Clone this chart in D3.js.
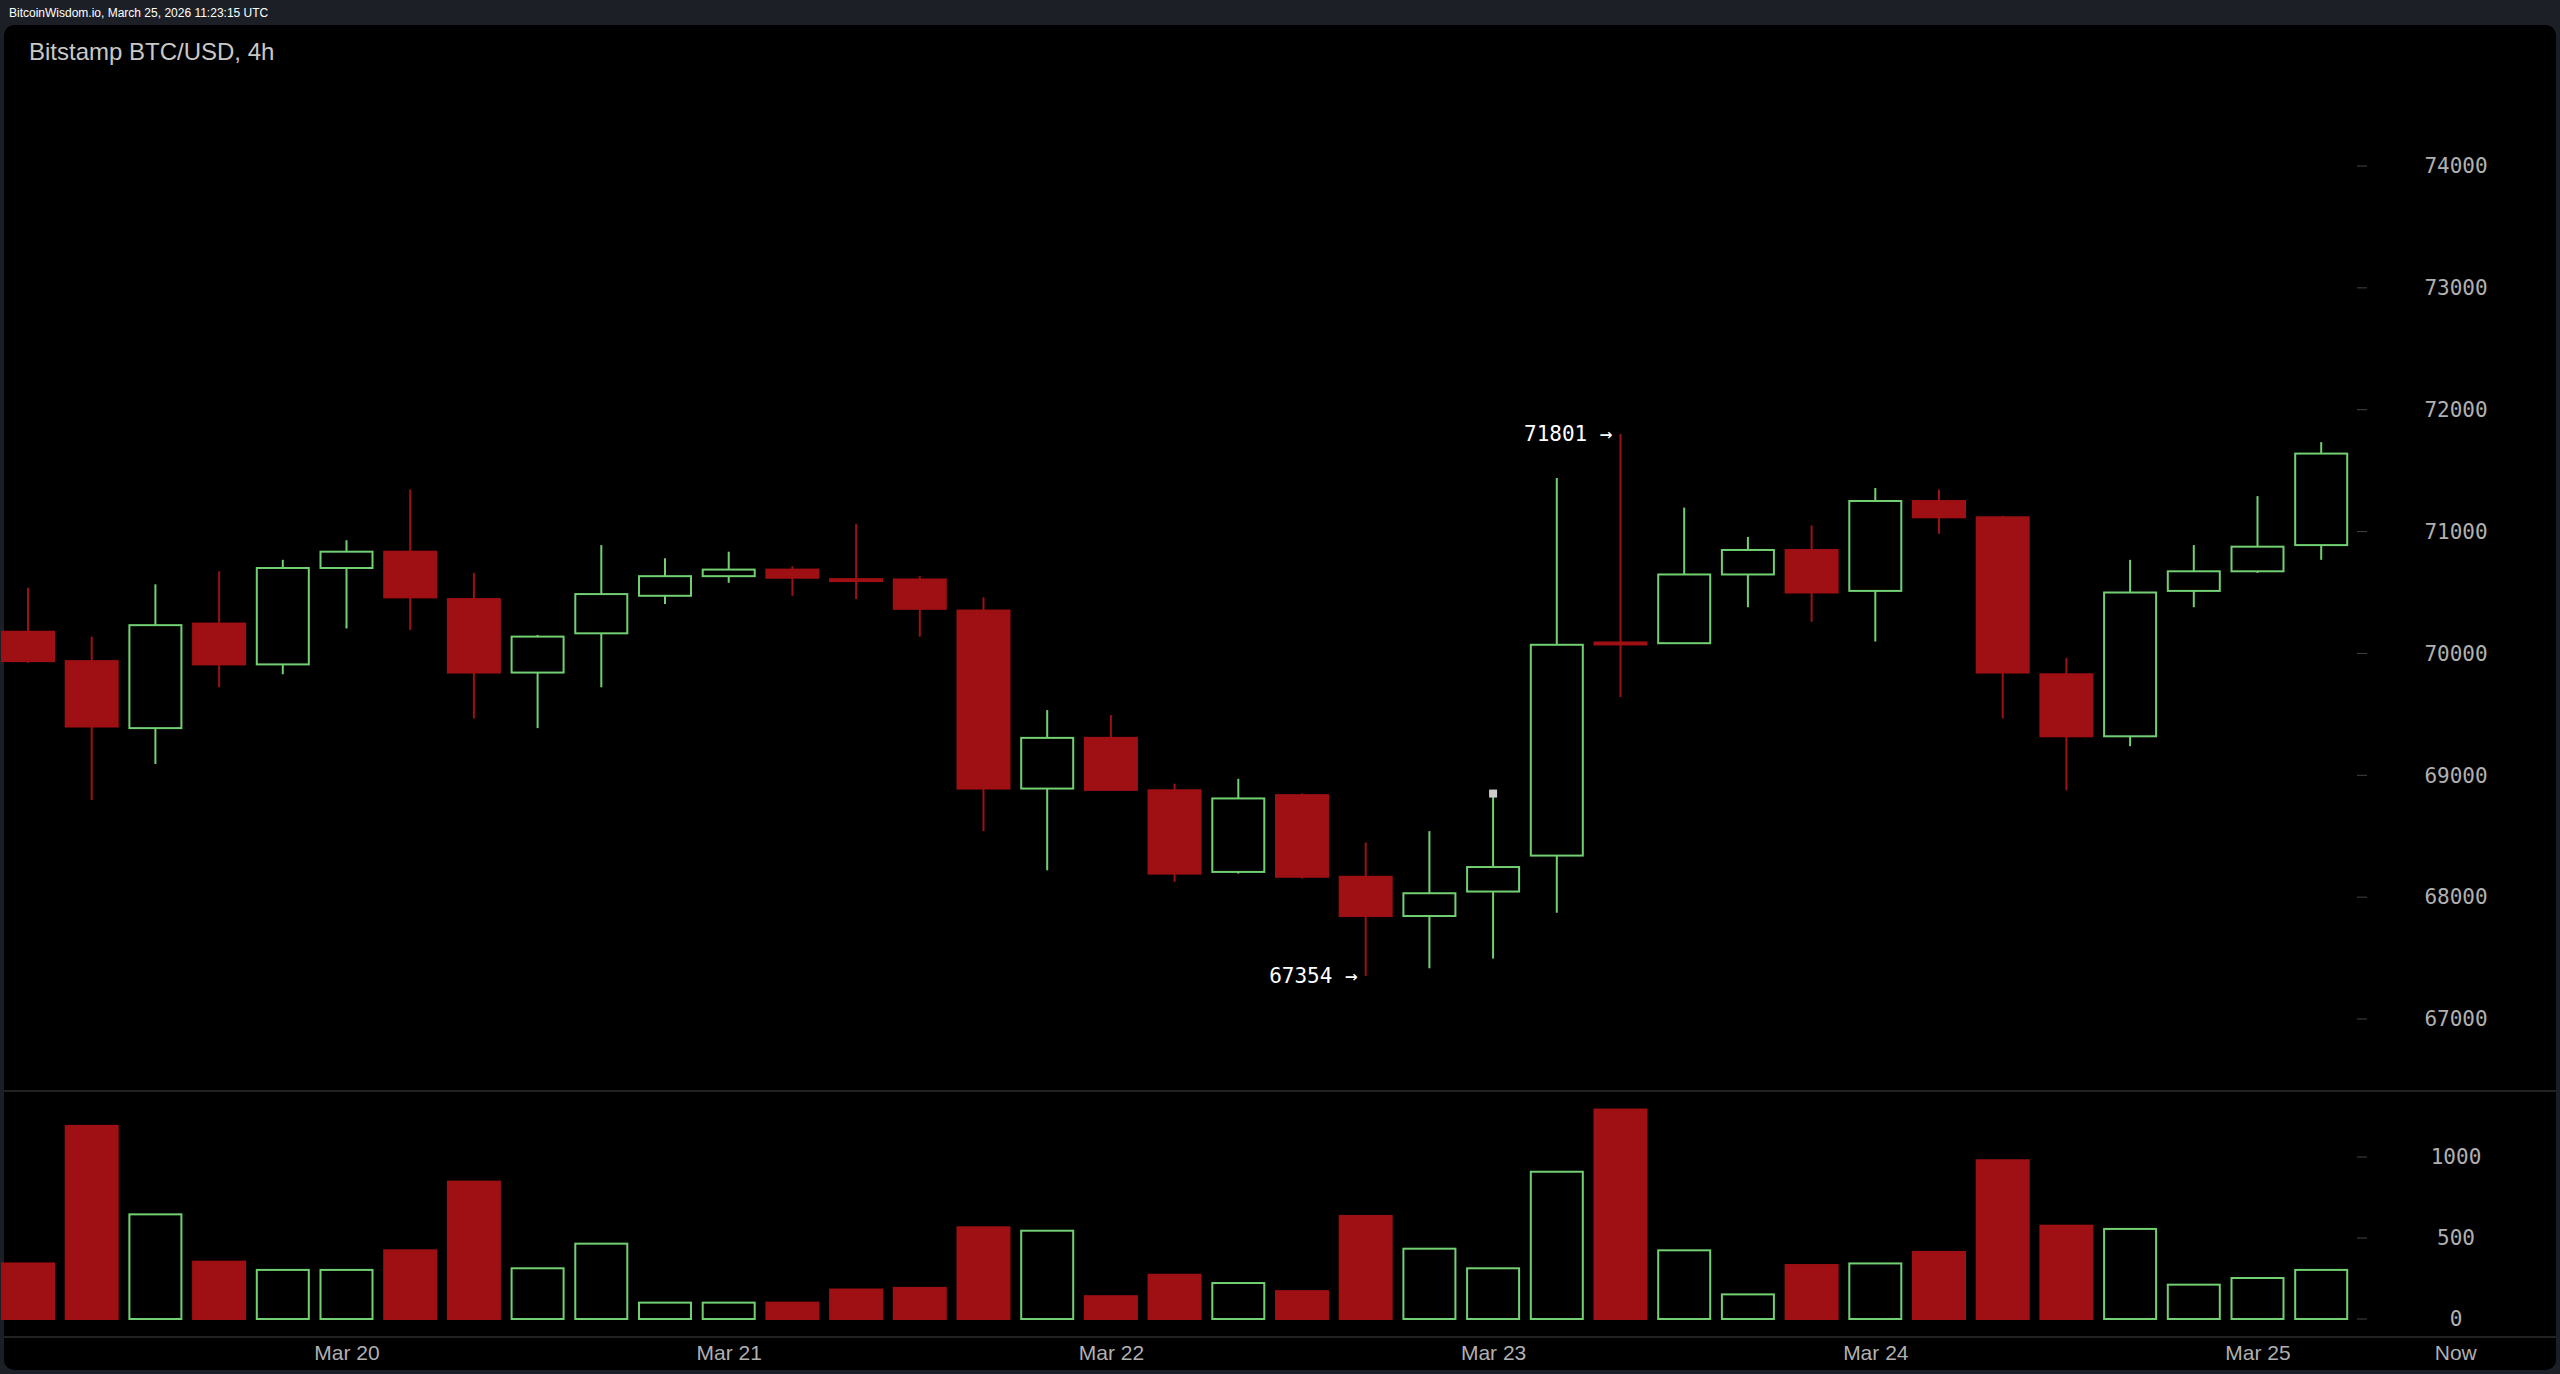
<!DOCTYPE html>
<html>
<head>
<meta charset="utf-8">
<script src="https://cdn.jsdelivr.net/npm/d3@7"></script>
<style>
body{margin:0;background:#1c1f26;overflow:hidden}
svg{display:block}
</style>
</head>
<body>
<svg id="chart"></svg>
<script>
// 4h candles starting Mar 19 04:00 UTC
var opens  = [70178,69937,69387,70245,69910,70701,70835,70446,69843,70165,70473,70634,70688,70610,70607,70352,68891,69307,68877,68207,68837,68167,67845,68046,68341,70090,70084,70648,70849,70513,71251,71117,69829,69320,70513,70674,70889];
var highs  = [70540,70138,70567,70674,70768,70929,71345,70661,70151,70889,70782,70835,70715,71063,70634,70460,69535,69494,68931,68971,68850,68448,68542,68850,71439,71801,71197,70956,71050,71358,71345,71130,69964,70768,70889,71291,71734];
var lows   = [69923,68797,69092,69722,69829,70205,70192,69467,69387,69722,70406,70580,70473,70446,70138,68542,68220,68880,68126,68193,68153,67354,67416,67496,67872,69642,70084,70379,70259,70098,70983,69467,68877,69239,70379,70661,70768];
var closes = [69937,69400,70232,69910,70701,70835,70460,69843,70138,70487,70634,70688,70621,70600,70366,68891,69307,68880,68193,68810,68167,67845,68032,68247,70071,70084,70648,70849,70500,71251,71117,69843,69320,70500,70674,70876,71640];
var volumes = [343,1192,646,354,303,303,424,848,313,465,101,101,101,182,192,566,545,141,273,222,172,636,434,313,909,1293,424,152,333,343,414,980,576,556,212,253,303];
var priceTicks = [67000,68000,69000,70000,71000,72000,73000,74000];
var volumeTicks = [0,500,1000];
var dayTicks = ["2026-03-20","2026-03-21","2026-03-22","2026-03-23","2026-03-24","2026-03-25"];
var dayLabels = ["Mar 20","Mar 21","Mar 22","Mar 23","Mar 24","Mar 25"];
var notes = [{label:"71801 \u2192", value:71801, index:25}, {label:"67354 \u2192", value:67354, index:21}];

var W = 2560, H = 1374;
var start = new Date("2026-03-19T04:00:00Z");
var times = opens.map(function(d,i){ return new Date(start.getTime() + i*4*3600*1000); });
var nowTime = new Date("2026-03-25T12:25:00Z");

var svg = d3.select("#chart").attr("width",W).attr("height",H);

//header and panel
svg.append("rect").attr("width",W).attr("height",H).attr("fill","#1c1f26");
svg.append("text").text("BitcoinWisdom.io, March 25, 2026 11:23:15 UTC")
    .attr("x",9).attr("y",17).attr("fill","#fff")
    .attr("font-family","Liberation Sans, Arial").attr("font-size",12);
svg.append("rect").attr("x",4).attr("y",25).attr("width",W-8).attr("height",H-29)
    .attr("rx",10).attr("fill","#000");
svg.append("text").text("Bitstamp BTC/USD, 4h")
    .attr("x",29).attr("y",60).attr("fill","#c8c8c8")
    .attr("font-family","Liberation Sans, Arial").attr("font-size",24);

//scales
var xScale = d3.scaleTime()
    .domain([start, times[1]])
    .range([28, 28+63.7]);
var yScale = d3.scaleLinear().domain([67000,74000]).range([1019,166]);
var vScale = d3.scaleLinear().domain([0,1000]).range([1319,1157]);

var red = "#9e1013", green = "#72d072";
var bw = 52;

//separators
svg.append("line").attr("x1",4).attr("x2",W-4).attr("y1",1091).attr("y2",1091).attr("stroke","#444");
svg.append("line").attr("x1",4).attr("x2",W-4).attr("y1",1337).attr("y2",1337).attr("stroke","#444");

//axes
var mono = "DejaVu Sans Mono, monospace";
var yAxis = d3.axisRight(yScale).tickValues(priceTicks).tickSize(0).tickPadding(0).tickFormat(d3.format("d"));
var ay = svg.append("g").attr("transform","translate(2456,0)").call(yAxis);
var vAxis = d3.axisRight(vScale).tickValues(volumeTicks).tickSize(0).tickPadding(0).tickFormat(d3.format("d"));
var av = svg.append("g").attr("transform","translate(2456,0)").call(vAxis);
[ay,av].forEach(function(a){
    a.select(".domain").remove();
    a.selectAll("text").attr("text-anchor","middle").attr("fill","#b0b0b0")
        .attr("font-family",mono).attr("font-size",21);
});
svg.append("g").selectAll("line").data(priceTicks).enter().append("line")
    .attr("x1",2357).attr("x2",2367).attr("y1",function(d){return yScale(d);}).attr("y2",function(d){return yScale(d);})
    .attr("stroke","#444");
svg.append("g").selectAll("line").data(volumeTicks).enter().append("line")
    .attr("x1",2357).attr("x2",2367).attr("y1",function(d){return vScale(d);}).attr("y2",function(d){return vScale(d);})
    .attr("stroke","#444");

var xAxis = d3.axisBottom(xScale)
    .tickValues(dayTicks.map(function(d){return new Date(d+"T00:00:00Z");}).concat([nowTime]))
    .tickSize(0).tickPadding(0)
    .tickFormat(function(d,i){ return i < dayLabels.length ? dayLabels[i] : "Now"; });
var ax = svg.append("g").attr("transform","translate(0,1345)").call(xAxis);
ax.select(".domain").remove();
ax.selectAll("text").attr("fill","#b0b0b0").attr("font-family","Liberation Sans, Arial").attr("font-size",21).attr("dy","0.7em");

//candles
var data = opens.map(function(o,i){
    return {t:times[i], o:o, h:highs[i], l:lows[i], c:closes[i], v:volumes[i]};
});
var g = svg.append("g").classed("candles",true);
g.selectAll("line").data(data).enter().append("line")
    .attr("x1",function(d){return xScale(d.t);}).attr("x2",function(d){return xScale(d.t);})
    .attr("y1",function(d){return yScale(d.h);}).attr("y2",function(d){return yScale(d.l);})
    .attr("stroke",function(d){return d.c>=d.o?green:red;}).attr("stroke-width",2);
g.selectAll("rect").data(data).enter().append("rect")
    .attr("x",function(d){return xScale(d.t)-bw/2;})
    .attr("y",function(d){return yScale(Math.max(d.o,d.c));})
    .attr("width",bw)
    .attr("height",function(d){return Math.max(2, yScale(Math.min(d.o,d.c))-yScale(Math.max(d.o,d.c)));})
    .attr("fill",function(d){return d.c>=d.o?"#000":red;})
    .attr("stroke",function(d){return d.c>=d.o?green:red;}).attr("stroke-width",2);

//small marker
svg.append("rect").attr("x",xScale(times[23])-4).attr("y",yScale(highs[23])-4)
    .attr("width",8).attr("height",8).attr("fill","#ccc");

//volume bars
svg.append("g").selectAll("rect").data(data).enter().append("rect")
    .attr("x",function(d){return xScale(d.t)-bw/2;})
    .attr("y",function(d){return vScale(d.v);})
    .attr("width",bw)
    .attr("height",function(d){return vScale(0)-vScale(d.v);})
    .attr("fill",function(d){return d.c>=d.o?"#000":red;})
    .attr("stroke",function(d){return d.c>=d.o?green:red;}).attr("stroke-width",2);

//annotations
svg.append("g").selectAll("text").data(notes).enter().append("text")
    .text(function(d){return d.label;})
    .attr("x",function(d){return xScale(times[d.index])-8;})
    .attr("y",function(d){return yScale(d.value);})
    .attr("dy","0.35em").attr("text-anchor","end")
    .attr("fill","#fff").attr("font-family",mono).attr("font-size",21);
</script>
</body>
</html>
